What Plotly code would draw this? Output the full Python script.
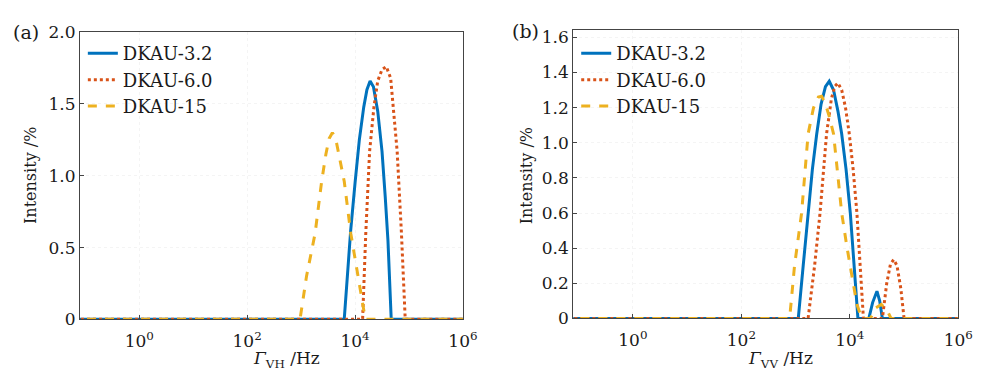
import plotly.graph_objects as go

# ---------------- data (frequency in Hz, intensity in %) ----------------
series_names = ["DKAU-3.2", "DKAU-6.0", "DKAU-15"]

# Panel (a): Gamma_VH
vh_32_f = [0.05, 6300, 7200, 8300, 10000, 12000, 14500, 16600, 19000, 21900, 26300, 31600, 36300, 40700, 46800, 1e6]
vh_32_y = [0, 0, 0.30, 0.62, 0.95, 1.25, 1.48, 1.60, 1.66, 1.62, 1.45, 1.17, 0.85, 0.55, 0, 0]

vh_60_f = [0.05, 13800, 15800, 18600, 22400, 26300, 31600, 38000, 45700, 52500, 60300, 72400, 85100, 1e6]
vh_60_y = [0, 0, 0.60, 1.17, 1.48, 1.66, 1.74, 1.76, 1.68, 1.45, 1.17, 0.60, 0, 0]

vh_15_f = [0.05, 955, 1260, 1820, 2400, 2880, 3310, 3800, 4370, 5250, 6310, 8320, 11200, 15500, 1e6]
vh_15_y = [0, 0, 0.30, 0.60, 0.96, 1.15, 1.26, 1.30, 1.26, 1.12, 0.96, 0.60, 0.30, 0, 0]

# Panel (b): Gamma_VV
vv_32_f = [0.05, 1120, 1380, 1700, 2040, 2450, 2950, 3550, 4170, 5010, 6030, 7080, 8510, 10200, 12600, 14100,
           22400, 26300, 31600, 35500, 39800, 1e6]
vv_32_y = [0, 0, 0.30, 0.60, 0.85, 1.05, 1.22, 1.32, 1.35, 1.30, 1.18, 1.05, 0.85, 0.60, 0.24, 0,
           0, 0.09, 0.155, 0.10, 0, 0]

vv_60_f = [0.05, 1700, 2240, 2820, 3720, 4570, 5250, 6030, 7080, 8320, 9770, 11500, 13500, 15800, 17800,
           39800, 47900, 56200, 64600, 74100, 87100, 100000, 1e6]
vv_60_y = [0, 0, 0.30, 0.60, 1.05, 1.25, 1.32, 1.34, 1.30, 1.20, 1.05, 0.85, 0.60, 0.25, 0,
           0, 0.20, 0.31, 0.335, 0.30, 0.17, 0, 0]

vv_15_f = [0.05, 776, 955, 1290, 1700, 2140, 2630, 3020, 3550, 4170, 5010, 5890, 7080, 8910, 11000, 13500, 16600,
           24000, 30200, 38000, 47900, 57500, 1e6]
vv_15_y = [0, 0, 0.30, 0.60, 1.05, 1.20, 1.26, 1.265, 1.22, 1.15, 1.05, 0.85, 0.60, 0.40, 0.24, 0.08, 0,
           0, 0.06, 0.08, 0.05, 0, 0]

x_tickvals = [1, 100, 10000, 1000000]
x_ticktext = ["10<sup>0</sup>", "10<sup>2</sup>", "10<sup>4</sup>", "10<sup>6</sup>"]
ya_tickvals = [0, 0.5, 1.0, 1.5, 2.0]
ya_ticktext = ["0", "0.5", "1.0", "1.5", "2.0"]
yb_tickvals = [0, 0.2, 0.4, 0.6, 0.8, 1.0, 1.2, 1.4, 1.6]
yb_ticktext = ["0", "0.2", "0.4", "0.6", "0.8", "1.0", "1.2", "1.4", "1.6"]

# ---------------- styling ----------------
colors = ["#0072BD", "#D95319", "#EDB120"]
dashes = ["solid", "dot", "dash"]
widths = [3, 3, 3]
FONT = "DejaVu Serif"
TXT = "#1a1a1a"

fig = go.Figure()

panel_a = [(vh_32_f, vh_32_y), (vh_60_f, vh_60_y), (vh_15_f, vh_15_y)]
panel_b = [(vv_32_f, vv_32_y), (vv_60_f, vv_60_y), (vv_15_f, vv_15_y)]

for i, (fx, fy) in enumerate(panel_a):
    fig.add_trace(go.Scatter(x=fx, y=fy, mode="lines", name=series_names[i],
                             line=dict(color=colors[i], dash=dashes[i], width=widths[i]),
                             xaxis="x", yaxis="y", legend="legend"))
for i, (fx, fy) in enumerate(panel_b):
    fig.add_trace(go.Scatter(x=fx, y=fy, mode="lines", name=series_names[i],
                             line=dict(color=colors[i], dash=dashes[i], width=widths[i]),
                             xaxis="x2", yaxis="y2", legend="legend2"))

W, H = 985, 382
ax_common = dict(showline=True, linecolor="#444", linewidth=1, mirror=True,
                 ticks="inside", ticklen=4, tickcolor="#444",
                 showgrid=True, gridcolor="#f4f4f4", griddash="dot", zeroline=False,
                 tickfont=dict(family=FONT, size=17, color=TXT))

xa = dict(ax_common, type="log", range=[-1.1, 6], tickvals=x_tickvals, ticktext=x_ticktext,
          ticklabelstandoff=6, domain=[73 / W, 462 / W], anchor="y")
xb = dict(ax_common, type="log", range=[-1.1, 6], tickvals=x_tickvals, ticktext=x_ticktext,
          ticklabelstandoff=6, domain=[574 / W, 965 / W], anchor="y2")
ya = dict(ax_common, range=[0, 2.0], tickvals=ya_tickvals, ticktext=ya_ticktext,
          domain=[1 - 318 / H, 1 - 15 / H], anchor="x")
yb = dict(ax_common, range=[0, 1.64], tickvals=yb_tickvals, ticktext=yb_ticktext,
          domain=[1 - 317 / H, 1 - 13 / H], anchor="x2")

leg_common = dict(bgcolor="rgba(255,255,255,0)", borderwidth=0,
                  font=dict(family=FONT, size=18, color=TXT),
                  xanchor="left", yanchor="top", tracegroupgap=0, itemwidth=30)


def ann(text, px, py, size, angle=0, xanchor="center"):
    return dict(text=text, x=px / W, y=1 - py / H, xref="paper", yref="paper",
                xanchor=xanchor, yanchor="middle", textangle=angle, showarrow=False,
                font=dict(family=FONT, size=size, color=TXT))


fig.update_layout(
    width=W, height=H,
    margin=dict(l=0, r=0, t=0, b=0),
    paper_bgcolor="white", plot_bgcolor="white",
    xaxis=xa, yaxis=ya, xaxis2=xb, yaxis2=yb,
    legend=dict(leg_common, x=76 / W, y=1 - 18 / H),
    legend2=dict(leg_common, x=577 / W, y=1 - 18 / H),
    showlegend=True,
    annotations=[
        ann("(a)", 3, 15, 19, xanchor="left"),
        ann("(b)", 510, 14, 19, xanchor="left"),
        ann("Intensity /%", 23, 166, 16, angle=-90),
        ann("Intensity /%", 526, 166, 16, angle=-90),
        ann("<i>Γ</i><sub>VH</sub> /Hz", 283, 360, 17),
        ann("<i>Γ</i><sub>VV</sub> /Hz", 784, 360, 17),
    ],
)

fig.write_html("out.html")
